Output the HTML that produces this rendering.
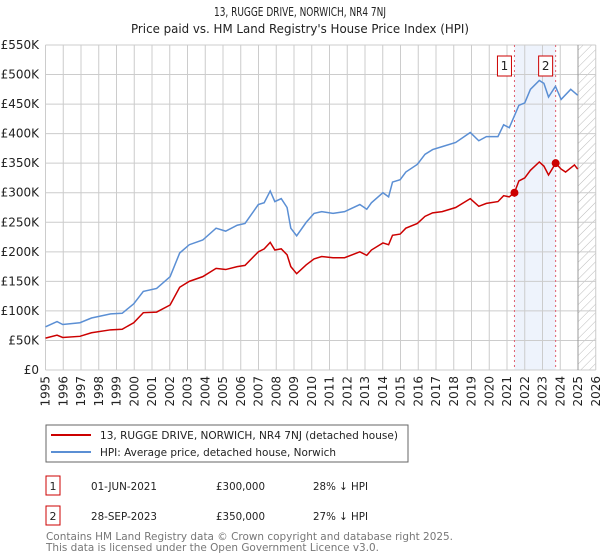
<!DOCTYPE html>
<html><head><meta charset="utf-8"><style>
body{margin:0;background:#fff;font-family:"DejaVu Sans","Liberation Sans",sans-serif;}
svg{display:block}
</style></head><body>
<svg width="600" height="560" xmlns="http://www.w3.org/2000/svg">
<defs><pattern id="hatch" width="6" height="6" patternUnits="userSpaceOnUse" patternTransform="rotate(45)"><line x1="0" y1="0" x2="0" y2="6" stroke="#bbb" stroke-width="1"/></pattern></defs>
<text x="300" y="16" text-anchor="middle" font-size="12" fill="#222" textLength="172" lengthAdjust="spacingAndGlyphs">13, RUGGE DRIVE, NORWICH, NR4 7NJ</text>
<text x="300" y="33" text-anchor="middle" font-size="12" fill="#222" textLength="338" lengthAdjust="spacingAndGlyphs">Price paid vs. HM Land Registry's House Price Index (HPI)</text>
<g id="plot"></g>
<rect x="46" y="425" width="362" height="37" fill="#fff" stroke="#666"/>
<line x1="51" y1="435" x2="91" y2="435" stroke="#cc0000" stroke-width="2"/>
<text x="100" y="439" font-size="11" fill="#222" textLength="298" lengthAdjust="spacingAndGlyphs">13, RUGGE DRIVE, NORWICH, NR4 7NJ (detached house)</text>
<line x1="51" y1="452" x2="91" y2="452" stroke="#5b8fd4" stroke-width="2"/>
<text x="100" y="456" font-size="11" fill="#222" textLength="236" lengthAdjust="spacingAndGlyphs">HPI: Average price, detached house, Norwich</text>
<g font-size="11" fill="#222">
<rect x="46" y="476" width="14" height="19" fill="none" stroke="#cc0000"/>
<text x="53" y="490" text-anchor="middle">1</text>
<text x="91" y="490" textLength="66" lengthAdjust="spacingAndGlyphs">01-JUN-2021</text>
<text x="216" y="490" textLength="49" lengthAdjust="spacingAndGlyphs">£300,000</text>
<text x="313" y="490" textLength="55" lengthAdjust="spacingAndGlyphs">28% ↓ HPI</text>
<rect x="46" y="506" width="14" height="19" fill="none" stroke="#cc0000"/>
<text x="53" y="520" text-anchor="middle">2</text>
<text x="91" y="520" textLength="66" lengthAdjust="spacingAndGlyphs">28-SEP-2023</text>
<text x="216" y="520" textLength="49" lengthAdjust="spacingAndGlyphs">£350,000</text>
<text x="313" y="520" textLength="55" lengthAdjust="spacingAndGlyphs">27% ↓ HPI</text>
</g>
<text x="46" y="540" font-size="11" fill="#777" textLength="407" lengthAdjust="spacingAndGlyphs">Contains HM Land Registry data © Crown copyright and database right 2025.</text>
<text x="46" y="551" font-size="11" fill="#777" textLength="333" lengthAdjust="spacingAndGlyphs">This data is licensed under the Open Government Licence v3.0.</text>
</svg>
<script>
const hpiYears=[1995,1995.65,1995.97,1996.94,1997.59,1998.67,1999.32,1999.97,2000.51,2001.26,2002.02,2002.56,2003.10,2003.86,2004.61,2005.15,2005.80,2006.24,2006.99,2007.32,2007.66,2007.92,2008.28,2008.61,2008.82,2009.15,2009.69,2010.13,2010.56,2011.20,2011.85,2012.71,2013.10,2013.36,2014.01,2014.33,2014.55,2014.98,2015.30,2015.95,2016.38,2016.81,2017.35,2018.11,2018.93,2019.41,2019.84,2020.49,2020.81,2021.13,2021.67,2022.00,2022.32,2022.82,2023.08,2023.34,2023.73,2024.05,2024.59,2024.98];
const hpiValues=[73,82,77,80,88,95,96,112,133,138,158,198,212,220,240,235,245,248,280,283,303,285,290,275,240,227,250,265,268,265,268,280,272,283,300,293,318,322,335,348,365,373,378,385,402,388,395,395,415,410,448,452,475,490,485,462,480,458,475,465];
const priceYears=[1995,1995.65,1995.97,1996.94,1997.59,1998.67,1999.32,1999.97,2000.51,2001.26,2002.02,2002.56,2003.10,2003.86,2004.61,2005.15,2005.80,2006.24,2006.99,2007.32,2007.66,2007.92,2008.28,2008.61,2008.82,2009.15,2009.69,2010.13,2010.56,2011.20,2011.85,2012.71,2013.10,2013.36,2014.01,2014.33,2014.55,2014.98,2015.30,2015.95,2016.38,2016.81,2017.35,2018.11,2018.93,2019.41,2019.84,2020.49,2020.81,2021.13,2021.42,2021.67,2022.00,2022.32,2022.82,2023.08,2023.34,2023.74,2024.05,2024.30,2024.80,2024.98];
const priceValues=[54,59,55,57,63,68,69,80,97,98,110,140,150,158,172,170,175,177,200,205,216,203,205,195,175,163,178,188,192,190,190,200,194,203,215,212,228,230,240,248,260,266,268,275,290,277,282,285,295,293,300,320,325,338,352,345,330,350,340,335,347,340];
const saleYears=[2021.42,2023.74];
const saleValues=[300,350];
const saleLabels=["1","2"];
const yTicks=[0,50,100,150,200,250,300,350,400,450,500,550];
const yTickLabels=["£0","£50K","£100K","£150K","£200K","£250K","£300K","£350K","£400K","£450K","£500K","£550K"];
const xTicks=[1995,1996,1997,1998,1999,2000,2001,2002,2003,2004,2005,2006,2007,2008,2009,2010,2011,2012,2013,2014,2015,2016,2017,2018,2019,2020,2021,2022,2023,2024,2025,2026];
const forecastStart=2025;

const NS="http://www.w3.org/2000/svg";
const X0=45.5,XS=17.75,Y0=370,YS=(370-45)/550;
const xs=y=>X0+(y-1995)*XS, ys=v=>Y0-v*YS;
const g=document.getElementById('plot');
function mk(t,a){const e=document.createElementNS(NS,t);for(const k in a)e.setAttribute(k,a[k]);g.appendChild(e);return e;}
const band=mk('rect',{x:xs(saleYears[0]),y:ys(550),width:xs(saleYears[1])-xs(saleYears[0]),height:ys(0)-ys(550),fill:'#eef3fc'});


const hat=mk('rect',{x:xs(forecastStart),y:ys(550),width:xs(2026)-xs(forecastStart),height:ys(0)-ys(550),fill:'url(#hatch)'});


xTicks.forEach(t=>{
 const l=mk('line',{x1:xs(t),x2:xs(t),y1:ys(550),y2:ys(0),stroke:'#ccc'});
 
 
 const tx=mk('text',{x:0,y:0,'font-size':12,fill:'#222','text-anchor':'end',transform:`translate(${xs(t)+4},376) rotate(-90)`});
 tx.textContent=t;
 
 
});
yTicks.forEach((t,i)=>{
 const l=mk('line',{x1:xs(1995),x2:xs(2026),y1:ys(t),y2:ys(t),stroke:'#ccc'});
 
 
 const tx=mk('text',{x:39,y:ys(t)+4,'font-size':12,fill:'#222','text-anchor':'end'});
 tx.textContent=yTickLabels[i];
 
 
});
const fl=mk('line',{x1:xs(forecastStart),x2:xs(forecastStart),y1:ys(550),y2:ys(0),stroke:'#999'});


saleYears.forEach((y,i)=>{
 const l=mk('line',{x1:xs(y),x2:xs(y),y1:ys(550),y2:ys(0),stroke:'#e06070','stroke-dasharray':'2,3'});
 
 
});
const hp=mk('polyline',{points:hpiYears.map((y,i)=>xs(y)+','+ys(hpiValues[i])).join(' '),fill:'none',stroke:'#5b8fd4','stroke-width':1.5});


const pp=mk('polyline',{points:priceYears.map((y,i)=>xs(y)+','+ys(priceValues[i])).join(' '),fill:'none',stroke:'#cc0000','stroke-width':1.5});


saleYears.forEach((y,i)=>{
 const c=mk('circle',{cx:xs(y),cy:ys(saleValues[i]),r:4,fill:'#cc0000'});
 
 
 const b=mk('rect',{x:xs(y)-17,y:56,width:14,height:20,fill:'#fff',stroke:'#cc0000'});
 
 
 const t=mk('text',{x:xs(y)-10,y:70,'font-size':12,fill:'#222','text-anchor':'middle'});
 t.textContent=saleLabels[i];
 
 
});
</script>
</body></html>
